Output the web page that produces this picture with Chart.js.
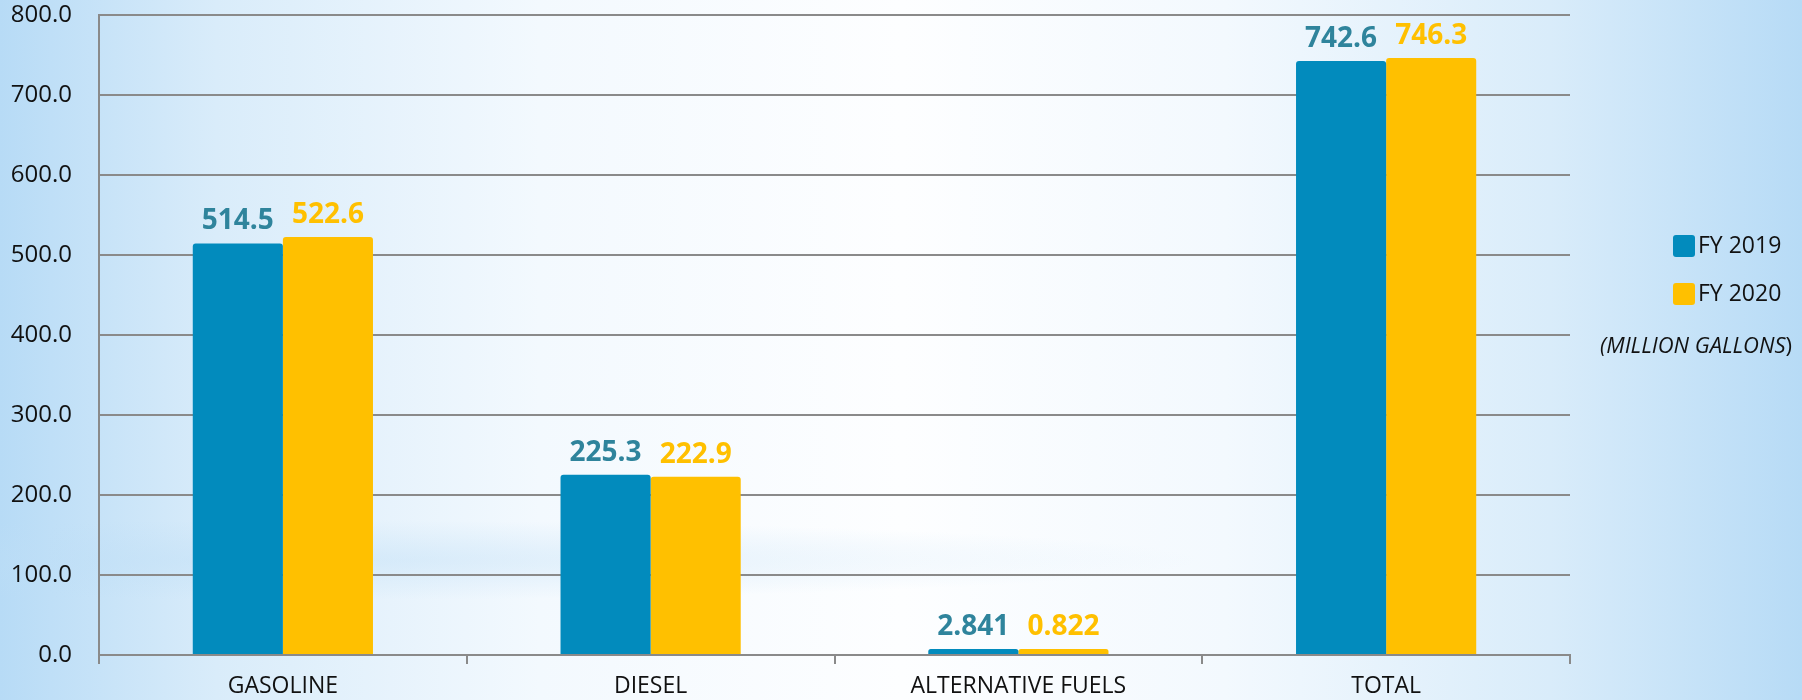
<!DOCTYPE html>
<html>
<head>
<meta charset="utf-8">
<script src="https://cdn.jsdelivr.net/npm/chart.js@4/dist/chart.umd.min.js"></script>
<style>
  html, body { margin: 0; padding: 0; }
  body {
    width: 1802px; height: 700px; overflow: hidden;
    background:
      radial-gradient(ellipse 900px 40px at 300px 560px, rgba(190,222,246,0.45), rgba(190,222,246,0) 100%),
      linear-gradient(to right, #b7dbf6 0%, #d9ecfa 12%, #f3f9fe 30%, #fdfeff 50%, #f3f9fe 68%, #d9ecfa 86%, #b7dbf6 100%);
  }
  #wrap { position: relative; width: 1802px; height: 700px; }
</style>
</head>
<body>
<div id="wrap"><canvas id="canvas" width="1802" height="700"></canvas></div>
<script>
// categories and series
var categories = ["GASOLINE", "DIESEL", "ALTERNATIVE FUELS", "TOTAL"];
var fy2019 = [514.5, 225.3, 2.841, 742.6];
var fy2020 = [522.6, 222.9, 0.822, 746.3];
var yTicks = [0, 100, 200, 300, 400, 500, 600, 700, 800];
var unitLabel = "MILLION GALLONS";

var blue = '#028bbd';
var yellow = '#ffc000';
var blueText = '#2f849c';
var gridCol = '#8a8a8a';
var font = "'Open Sans', sans-serif";

// value labels above bars
var valueLabels = {
  id: 'valueLabels',
  afterDatasetsDraw: function(chart) {
    var ctx = chart.ctx;
    ctx.save();
    ctx.font = "bold 28px " + font;
    ctx.textAlign = 'center';
    ctx.textBaseline = 'alphabetic';
    chart.data.datasets.forEach(function(ds, i) {
      var meta = chart.getDatasetMeta(i);
      ctx.fillStyle = i == 0 ? blueText : yellow;
      meta.data.forEach(function(bar, j) {
        ctx.fillText(String(ds.data[j]), bar.x, bar.y - 14);
      });
    });
    ctx.restore();
  }
};

// legend on the right, as in the original
var sideLegend = {
  id: 'sideLegend',
  afterDraw: function(chart) {
    var ctx = chart.ctx;
    ctx.save();
    ctx.font = "23px " + font;
    ctx.textBaseline = 'middle';
    chart.data.datasets.forEach(function(ds, i) {
      var y = 246 + i * 48;
      ctx.fillStyle = ds.backgroundColor;
      ctx.beginPath();
      ctx.roundRect(1673, y - 11, 22, 22, 3);
      ctx.fill();
      ctx.fillStyle = '#111';
      ctx.textAlign = 'left';
      ctx.fillText(ds.label, 1698, y);
    });
    ctx.font = "italic 22px " + font;
    var t1 = "(" + unitLabel;
    var w1 = ctx.measureText(t1).width;
    ctx.font = "22px " + font;
    var w2 = ctx.measureText(")").width;
    var x0 = 1792 - w1 - w2;
    ctx.font = "italic 22px " + font;
    ctx.fillText(t1, x0, 347);
    ctx.font = "22px " + font;
    ctx.fillText(")", x0 + w1, 347);
    ctx.restore();
  }
};

var config = {
  type: 'bar',
  data: {
    labels: categories,
    datasets: [
      { label: 'FY 2019', data: fy2019, backgroundColor: blue, borderRadius: { topLeft: 3, topRight: 3 }, borderSkipped: 'bottom' },
      { label: 'FY 2020', data: fy2020, backgroundColor: yellow, borderRadius: { topLeft: 3, topRight: 3 }, borderSkipped: 'bottom' }
    ]
  },
  options: {
    responsive: false,
    animation: false,
    devicePixelRatio: 1,
    layout: { padding: { top: 15, right: 232, left: 0, bottom: 0 } },
    datasets: { bar: { categoryPercentage: 0.49, barPercentage: 1.0, minBarLength: 6 } },
    plugins: {
      legend: { display: false },
      tooltip: { enabled: false }
    },
    scales: {
      x: {
        grid: { offset: true, drawOnChartArea: false, drawTicks: true, tickLength: 9, color: gridCol, lineWidth: 2 },
        border: { color: gridCol, width: 2 },
        ticks: { color: '#111', font: { family: font, size: 23 }, padding: 9, maxRotation: 0 },
        afterFit: function(s) { s.height = 45; }
      },
      y: {
        min: 0, max: 800,
        afterBuildTicks: function(s) { s.ticks = yTicks.map(function(v) { return { value: v }; }); },
        grid: { color: gridCol, lineWidth: 2, drawTicks: true, tickLength: 27, tickColor: 'rgba(0,0,0,0)' },
        border: { color: gridCol, width: 2 },
        ticks: {
          color: '#111', font: { family: font, size: 24 }, padding: 0,
          callback: function(v) { return Number(v).toFixed(1); }
        },
        afterFit: function(s) { s.width = 99; }
      }
    }
  },
  plugins: [valueLabels, sideLegend]
};

window.onload = function() {
  var ctx = document.getElementById('canvas').getContext('2d');
  window.myBar = new Chart(ctx, config);
};
</script>
</body>
</html>
